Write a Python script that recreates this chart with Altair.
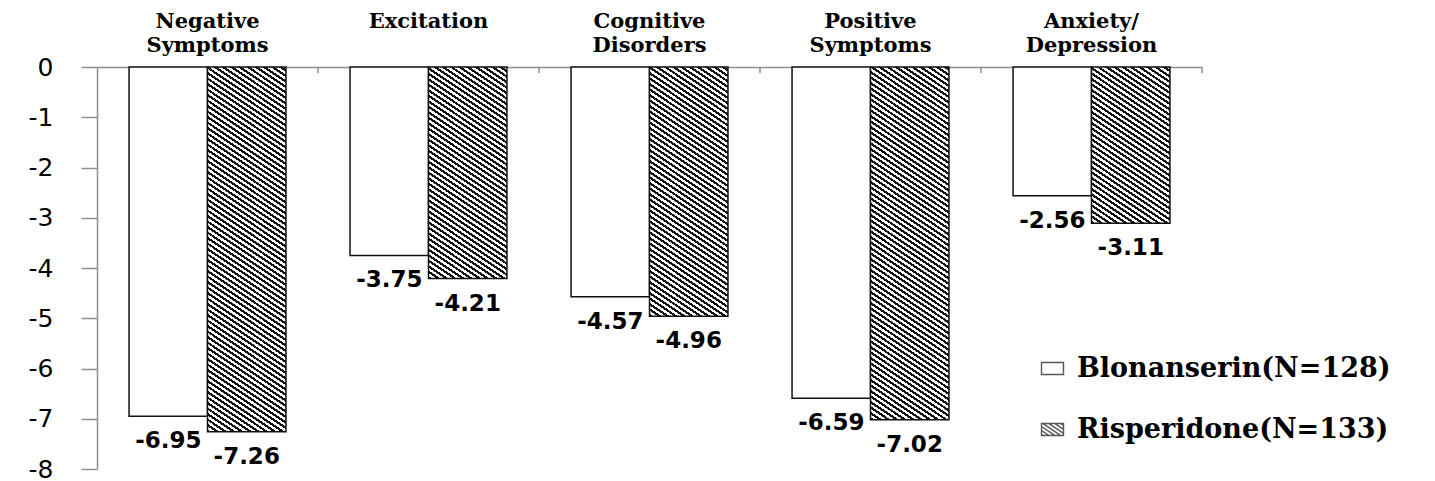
import altair as alt
import pandas as pd

# ---------------- data ----------------
categories = ["Negative Symptoms", "Excitation", "Cognitive Disorders",
              "Positive Symptoms", "Anxiety/ Depression"]
series = ["Blonanserin(N=128)", "Risperidone(N=133)"]
blonanserin = [-6.95, -3.75, -4.57, -6.59, -2.56]
risperidone = [-7.26, -4.21, -4.96, -7.02, -3.11]
y_ticks = [0, -1, -2, -3, -4, -5, -6, -7, -8]

# ---------------- layout / style ----------------
W, H = 1105, 402
PAD_IN, PAD_OUT = 0.29, 0.145
Y_MIN, Y_MAX = -8, 0
GRAY = "#8f8f8f"
INK = "#111111"
STEP = W / (len(categories) - PAD_IN + 2 * PAD_OUT)

rows = []
for c, b, r in zip(categories, blonanserin, risperidone):
    rows.append({"category": c, "series": series[0], "value": b, "label": f"{b:.2f}"})
    rows.append({"category": c, "series": series[1], "value": r, "label": f"{r:.2f}"})
df = pd.DataFrame(rows)


def hatch_fill(value, slope=0.67, pv=5.5, dark=0.48):
    """Striped linear gradient imitating a '\\' hatch pattern on a bar."""
    bw = STEP * (1 - PAD_IN) / 2
    bh = abs(value) * H / (Y_MAX - Y_MIN)
    r = bh / bw
    D = slope * bw * (1 + (r / slope) ** 2)
    dt = pv / D
    tmax = (slope * bw + bh) / D
    stops = []
    t = 0.0
    while t < min(tmax + dt, 1.0):
        a = t
        b = min(t + dark * dt, 1.0)
        c = min(t + dt, 1.0)
        stops += [
            {"offset": round(a, 6), "color": INK},
            {"offset": round(b, 6), "color": INK},
            {"offset": round(b, 6), "color": "white"},
            {"offset": round(c, 6), "color": "white"},
        ]
        t += dt
    return {"gradient": "linear", "x1": 0, "y1": 1, "x2": 1,
            "y2": 1 - r / slope, "stops": stops}


def hatch_path(s=0.67, gap=0.36, hw=1.0, hh=0.55):
    parts = [f"M{-hw},{-hh}H{hw}V{hh}H{-hw}Z"]
    c = -hh - s * hw + gap / 2
    while c < hh + s * hw:
        xa = max(-hw, (-hh - c) / s)
        xb = min(hw, (hh - c) / s)
        if xb - xa > 0.05:
            parts.append(f"M{xa:.3f},{s * xa + c:.3f}L{xb:.3f},{s * xb + c:.3f}")
        c += gap
    return "".join(parts)


rect_path = "M-1,-0.55H1V0.55H-1Z"

x_scale = alt.Scale(domain=categories, paddingInner=PAD_IN, paddingOuter=PAD_OUT)
xoff = alt.XOffset("series:N", scale=alt.Scale(domain=series, paddingInner=0, paddingOuter=0))

top_axis = alt.Axis(orient="top", title=None, labelExpr="split(datum.label, ' ')",
                    labelFont="DejaVu Serif", labelFontWeight="bold", labelFontSize=21,
                    labelLineHeight=24, labelColor="black", labelBaseline="middle",
                    labelPadding=46, labelAngle=0, ticks=False, tickSize=0,
                    domainColor=GRAY, domainWidth=1.5, labelOverlap=False,
                    labelLimit=300, grid=False)
y_axis = alt.Axis(values=y_ticks, title=None, labelExpr="'' + datum.value",
                  labelFont="DejaVu Sans", labelFontSize=25, labelColor="black",
                  labelPadding=28, tickSize=16, tickColor=GRAY, tickWidth=1.5,
                  domainColor=GRAY, domainWidth=1.5, grid=False)

y_enc = alt.Y("value:Q", scale=alt.Scale(domain=[Y_MIN, Y_MAX], nice=False, zero=False),
              axis=y_axis)


def xenc(**kw):
    return alt.X("category:N", scale=x_scale, axis=top_axis, **kw)


base = alt.Chart(df)

blon_bars = base.transform_filter(alt.datum.series == series[0]).mark_bar(
    fill="white", stroke=INK, strokeWidth=1.5
).encode(x=xenc(), xOffset=xoff, y=y_enc)

# small category-boundary ticks hanging from the zero line
tick_layer = base.transform_filter(alt.datum.series == series[0]).mark_rule(
    color=GRAY, strokeWidth=1.5, xOffset=PAD_IN * STEP / 2
).encode(x=xenc(bandPosition=1), y=alt.value(0), y2=alt.value(6))

ris_layers = []
for c, v in zip(categories, risperidone):
    ris_layers.append(
        base.transform_filter(alt.datum.series == series[1])
        .transform_filter(alt.datum.category == c)
        .mark_bar(fill=hatch_fill(v), stroke=INK, strokeWidth=1.5)
        .encode(x=xenc(), xOffset=xoff, y=y_enc)
    )

labels = base.mark_text(dy=25, font="DejaVu Sans", fontWeight="bold", fontSize=23,
                        color="black", baseline="middle").encode(
    x=xenc(), xOffset=xoff, y=y_enc, text="label:N")

legend_layer = alt.Chart(df).mark_point(filled=False, color=INK, strokeWidth=1.4).encode(
    shape=alt.Shape("series:N",
                    scale=alt.Scale(domain=series, range=[rect_path, hatch_path()]),
                    legend=alt.Legend(orient="none", legendX=942, legendY=288, title=None,
                                      padding=0, symbolSize=484, symbolStrokeColor=INK,
                                      symbolStrokeWidth=1.4, labelFont="DejaVu Serif",
                                      labelFontWeight="bold", labelFontSize=27,
                                      labelColor="black", labelOffset=11, labelLimit=600,
                                      rowPadding=33))
).transform_filter("false")

chart = alt.layer(blon_bars, *ris_layers, tick_layer, labels, legend_layer).properties(
    width=W, height=H,
    autosize=alt.AutoSizeParams(type="none"),
    padding={"left": 89, "top": 59, "right": 225, "bottom": 12},
).configure_view(stroke=None)

chart.save("out.html", embed_options={"renderer": "svg", "actions": False})
